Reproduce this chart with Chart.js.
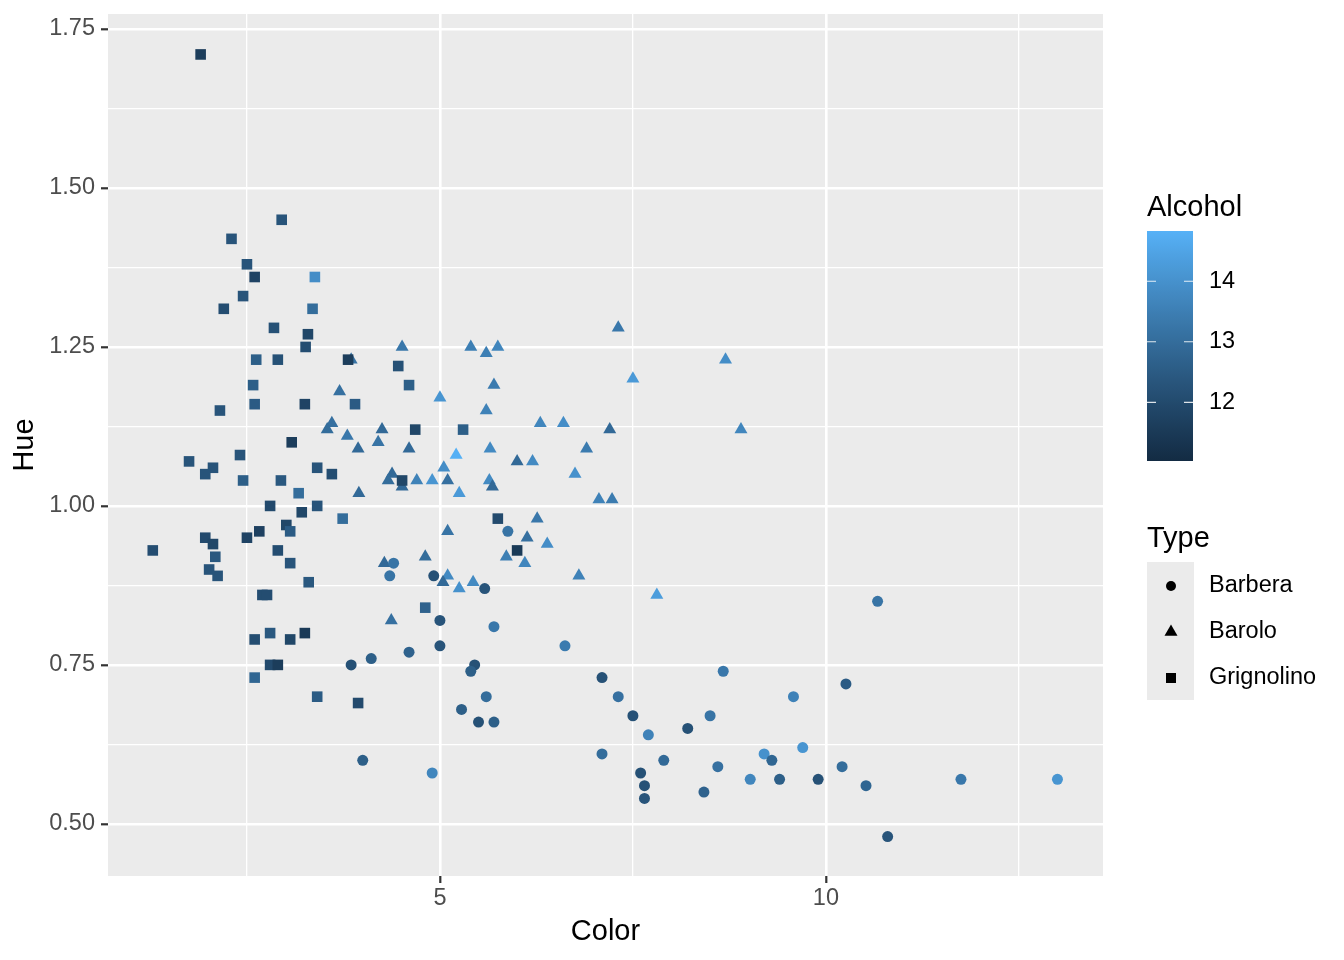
<!DOCTYPE html>
<html lang="en">
<head>
<meta charset="UTF-8">
<title>Wine: Color vs Hue</title>
<script src="https://cdn.jsdelivr.net/npm/chart.js"></script>
<style>
  html, body { margin: 0; padding: 0; background: #fff; }
  canvas { display: block; }
</style>
</head>
<body>
<canvas id="wineChart" width="1344" height="960"></canvas>
<script>
// ---- data ----
const baroloColor = [4.51,3.85,5.40,5.60,5.75,3.70,5.70,5.00,5.60,6.30,3.60,3.54,4.25,3.80,4.20,3.94,4.60,5.21,5.65,6.00,6.20,5.05,4.38,4.33,4.51,4.70,4.90,5.10,5.64,5.68,5.25,3.95,5.10,6.26,6.13,6.39,5.86,6.10,4.28,4.81,5.10,5.04,5.25,5.43,6.80,4.37,7.31,8.70,7.50,6.60,7.20,8.90,6.90,6.75,7.06,7.23,7.81];
const baroloHue = [1.25,1.23,1.25,1.24,1.25,1.18,1.19,1.17,1.15,1.13,1.13,1.12,1.12,1.11,1.10,1.09,1.09,1.08,1.09,1.07,1.07,1.06,1.05,1.04,1.03,1.04,1.04,1.04,1.04,1.03,1.02,1.02,0.96,0.98,0.95,0.94,0.92,0.91,0.91,0.92,0.89,0.88,0.87,0.88,0.89,0.82,1.28,1.23,1.20,1.13,1.12,1.12,1.09,1.05,1.01,1.01,0.86];
const baroloAlcohol = [13.3,13.2,13.5,13.5,13.7,13.1,13.4,14.1,13.6,13.7,13.1,13.0,12.9,13.3,13.2,12.9,12.9,14.8,13.8,12.9,13.8,13.9,12.9,13.0,12.9,13.6,14.1,13.1,13.8,12.9,14.2,12.9,13.2,13.3,13.1,13.9,13.5,13.7,12.9,13.0,13.8,12.9,14.0,13.8,13.6,13.1,13.3,13.9,14.2,13.9,12.9,13.7,13.4,14.0,13.6,13.4,14.3];

const grignolinoColor = [1.90,2.95,2.30,2.50,2.60,3.38,2.45,2.20,3.35,2.85,3.29,3.26,2.62,2.90,3.81,4.46,4.60,2.58,3.90,3.25,2.60,2.15,3.08,2.41,1.75,2.06,1.96,3.41,3.60,2.45,2.94,3.17,2.80,3.41,3.21,3.01,3.06,2.66,2.50,1.96,2.06,1.28,2.90,2.09,3.06,2.01,2.12,3.30,2.70,2.76,2.80,2.60,3.06,3.25,2.80,2.90,2.60,3.41,4.68,5.30,4.51,3.74,5.75,6.00,4.81,3.94];
const grignolinoHue = [1.71,1.45,1.42,1.38,1.36,1.36,1.33,1.31,1.31,1.28,1.27,1.25,1.23,1.23,1.23,1.22,1.19,1.19,1.16,1.16,1.16,1.15,1.10,1.08,1.07,1.06,1.05,1.06,1.05,1.04,1.04,1.02,1.00,1.00,0.99,0.97,0.96,0.96,0.95,0.95,0.94,0.93,0.93,0.92,0.91,0.90,0.89,0.88,0.86,0.86,0.80,0.79,0.79,0.80,0.75,0.75,0.73,0.70,1.12,1.12,1.04,0.98,0.98,0.93,0.84,0.69];
const grignolinoAlcohol = [11.6,12.3,12.3,12.3,11.8,13.9,12.3,12.1,13.0,12.2,11.9,12.1,12.6,12.2,11.6,12.2,12.6,12.6,12.5,11.8,12.5,12.3,11.6,12.3,12.3,12.3,12.3,12.3,12.1,12.6,12.4,13.0,12.0,12.3,11.9,11.9,12.5,11.7,11.8,12.0,11.9,12.1,12.1,12.4,12.3,12.3,12.3,12.4,12.1,12.1,12.4,12.1,11.9,11.5,12.0,11.6,12.8,12.5,11.9,12.6,11.9,13.0,12.0,11.5,12.7,12.0];

const barberaColor = [5.88,4.40,4.35,4.92,5.58,5.00,5.70,5.00,4.60,4.11,3.85,5.45,5.40,5.60,5.28,5.50,5.70,4.00,4.90,6.62,7.10,7.31,8.67,9.58,7.50,8.50,10.26,7.70,8.21,7.10,7.90,7.60,7.65,7.65,8.60,8.42,9.02,9.20,9.30,9.70,9.40,9.90,10.21,10.52,10.80,10.67,11.75,13.00];
const barberaHue = [0.96,0.91,0.89,0.89,0.87,0.82,0.81,0.78,0.77,0.76,0.75,0.75,0.74,0.70,0.68,0.66,0.66,0.60,0.58,0.78,0.73,0.70,0.74,0.70,0.67,0.67,0.72,0.64,0.65,0.61,0.60,0.58,0.56,0.54,0.59,0.55,0.57,0.61,0.60,0.62,0.57,0.57,0.59,0.56,0.48,0.85,0.57,0.57];
const barberaAlcohol = [13.2,13.2,13.2,12.2,12.3,12.3,13.3,12.3,12.7,12.6,12.2,12.2,12.6,13.0,12.6,12.2,12.6,12.6,13.7,13.4,12.2,13.1,13.3,13.6,12.2,13.2,12.5,13.6,12.2,13.0,12.9,12.2,12.2,12.3,13.1,12.7,13.7,14.0,12.8,14.1,12.6,12.2,13.0,12.8,12.3,13.2,13.3,14.1];

const xBreaks = [5, 10];
const xMinor = [2.5, 7.5, 12.5];
const yBreaks = [0.50, 0.75, 1.00, 1.25, 1.50, 1.75];
const yMinor = [0.625, 0.875, 1.125, 1.375, 1.625];
const alcoholBreaks = [12, 13, 14];
const alcoholRange = [11.03, 14.83];
const typeNames = ['Barbera', 'Barolo', 'Grignolino'];

const FONT = '"Liberation Sans", Arial, Helvetica, sans-serif';
Chart.defaults.font.family = FONT;

// ggplot-like gradient: #132B43 -> #56B1F7, interpolated in Lab
const lowRgb = [19, 43, 67];
const highRgb = [86, 177, 247];
function toLab([r, g, b]) {
  const lin = v => { v /= 255; return v <= 0.04045 ? v / 12.92 : Math.pow((v + 0.055) / 1.055, 2.4); };
  const R = lin(r), G = lin(g), B = lin(b);
  const X = (0.4124 * R + 0.3576 * G + 0.1805 * B) / 0.95047;
  const Y = 0.2126 * R + 0.7152 * G + 0.0722 * B;
  const Z = (0.0193 * R + 0.1192 * G + 0.9505 * B) / 1.08883;
  const f = t => t > 0.008856 ? Math.cbrt(t) : 7.787 * t + 16 / 116;
  return [116 * f(Y) - 16, 500 * (f(X) - f(Y)), 200 * (f(Y) - f(Z))];
}
function fromLab([L, a, b]) {
  const fy = (L + 16) / 116, fx = fy + a / 500, fz = fy - b / 200;
  const inv = t => t > 0.206893 ? t * t * t : (t - 16 / 116) / 7.787;
  const X = inv(fx) * 0.95047, Y = inv(fy), Z = inv(fz) * 1.08883;
  const R = 3.2406 * X - 1.5372 * Y - 0.4986 * Z;
  const G = -0.9689 * X + 1.8758 * Y + 0.0415 * Z;
  const B = 0.0557 * X - 0.2040 * Y + 1.0570 * Z;
  const gam = v => { v = v <= 0.0031308 ? 12.92 * v : 1.055 * Math.pow(v, 1 / 2.4) - 0.055; return Math.round(Math.min(1, Math.max(0, v)) * 255); };
  return [gam(R), gam(G), gam(B)];
}
const lowLab = toLab(lowRgb), highLab = toLab(highRgb);
function alcoholColour(a) {
  const t = Math.min(1, Math.max(0, (a - alcoholRange[0]) / (alcoholRange[1] - alcoholRange[0])));
  const c = fromLab(lowLab.map((v, i) => v + (highLab[i] - v) * t));
  return `rgb(${c[0]},${c[1]},${c[2]})`;
}

function typeDataset(label, colours, hues, alcohols, style, radius) {
  return {
    label: label,
    data: colours.map((c, i) => ({ x: c, y: hues[i] })),
    pointStyle: style,
    pointRadius: radius,
    pointBackgroundColor: alcohols.map(alcoholColour),
    pointBorderWidth: 0,
    borderWidth: 0
  };
}

const isIn = (arr, v) => arr.some(t => Math.abs(t - v) < 1e-9);

// grey panel behind the grid
const panelPlugin = {
  id: 'panel',
  beforeDraw(chart) {
    const { ctx, chartArea: a } = chart;
    ctx.save();
    ctx.fillStyle = '#fff';
    ctx.fillRect(0, 0, chart.width, chart.height);
    ctx.fillStyle = '#EBEBEB';
    ctx.fillRect(a.left, a.top, a.right - a.left, a.bottom - a.top);
    ctx.restore();
  }
};

// colourbar + shape legend on the right
const legendPlugin = {
  id: 'ggLegend',
  afterDraw(chart) {
    const ctx = chart.ctx;
    ctx.save();
    ctx.fillStyle = '#000';
    ctx.textAlign = 'left';
    ctx.textBaseline = 'alphabetic';
    ctx.font = '29px ' + FONT;
    ctx.fillText('Alcohol', 1147, 216);

    const barX = 1147, barW = 46, barTop = 231, barBottom = 461;
    const span = alcoholRange[1] - alcoholRange[0];
    const grad = ctx.createLinearGradient(0, barBottom, 0, barTop);
    for (let i = 0; i <= 30; i++) {
      grad.addColorStop(i / 30, alcoholColour(alcoholRange[0] + span * i / 30));
    }
    ctx.fillStyle = grad;
    ctx.fillRect(barX, barTop, barW, barBottom - barTop);

    ctx.font = '23.5px ' + FONT;
    ctx.textBaseline = 'middle';
    alcoholBreaks.forEach(v => {
      const y = barBottom - (v - alcoholRange[0]) / span * (barBottom - barTop);
      ctx.strokeStyle = 'rgba(255,255,255,0.85)';
      ctx.lineWidth = 1.2;
      ctx.beginPath();
      ctx.moveTo(barX, y); ctx.lineTo(barX + 9, y);
      ctx.moveTo(barX + barW - 9, y); ctx.lineTo(barX + barW, y);
      ctx.stroke();
      ctx.fillStyle = '#000';
      ctx.fillText(String(v), 1209, y);
    });

    ctx.textBaseline = 'alphabetic';
    ctx.font = '29px ' + FONT;
    ctx.fillText('Type', 1147, 547);

    ctx.fillStyle = '#EBEBEB';
    ctx.fillRect(1147, 562, 47, 138);
    const keyX = 1171;
    const keyY = [586, 632, 678];
    ctx.fillStyle = '#000';
    // circle
    ctx.beginPath(); ctx.arc(keyX, keyY[0], 5, 0, Math.PI * 2); ctx.fill();
    // triangle
    const r = 7.5;
    ctx.beginPath();
    ctx.moveTo(keyX, keyY[1] - r);
    ctx.lineTo(keyX + r * Math.sin(Math.PI * 2 / 3), keyY[1] + r / 2);
    ctx.lineTo(keyX - r * Math.sin(Math.PI * 2 / 3), keyY[1] + r / 2);
    ctx.closePath(); ctx.fill();
    // square
    ctx.fillRect(keyX - 5, keyY[2] - 5, 10, 10);

    ctx.font = '23.5px ' + FONT;
    ctx.textBaseline = 'middle';
    typeNames.forEach((name, i) => ctx.fillText(name, 1209, keyY[i]));
    ctx.restore();
  }
};

new Chart(document.getElementById('wineChart'), {
  type: 'scatter',
  data: {
    // first dataset is drawn on top in Chart.js
    datasets: [
      typeDataset('Barbera', barberaColor, barberaHue, barberaAlcohol, 'circle', 5.5),
      typeDataset('Grignolino', grignolinoColor, grignolinoHue, grignolinoAlcohol, 'rect', 7.5),
      typeDataset('Barolo', baroloColor, baroloHue, baroloAlcohol, 'triangle', 7.5)
    ]
  },
  options: {
    responsive: false,
    animation: false,
    events: [],
    layout: { padding: { top: 14, right: 241, bottom: 0, left: 0 } },
    plugins: { legend: { display: false }, tooltip: { enabled: false } },
    scales: {
      x: {
        type: 'linear',
        min: 0.70,
        max: 13.59,
        afterBuildTicks: s => {
          s.ticks = xMinor.concat(xBreaks).sort((a, b) => a - b).map(v => ({ value: v }));
        },
        afterFit: s => { s.height = 84; s.paddingLeft = 0; s.paddingRight = 0; },
        ticks: {
          autoSkip: false,
          maxRotation: 0,
          padding: 1,
          color: '#4D4D4D',
          font: { size: 23.5 },
          callback: v => isIn(xBreaks, v) ? String(v) : ''
        },
        grid: {
          color: '#FFFFFF',
          lineWidth: c => isIn(xBreaks, c.tick.value) ? 2.6 : 1.3,
          tickLength: 7,
          tickWidth: 2.2,
          tickColor: c => isIn(xBreaks, c.tick.value) ? '#333333' : 'rgba(0,0,0,0)'
        },
        border: { display: false },
        title: { display: true, text: 'Color', color: '#000', font: { size: 29 }, padding: { top: 0, bottom: 11 } }
      },
      y: {
        type: 'linear',
        min: 0.418,
        max: 1.7736,
        afterBuildTicks: s => {
          s.ticks = yMinor.concat(yBreaks).sort((a, b) => a - b).map(v => ({ value: v }));
        },
        afterFit: s => { s.width = 108; s.paddingTop = 0; s.paddingBottom = 0; },
        ticks: {
          autoSkip: false,
          padding: 6,
          color: '#4D4D4D',
          font: { size: 23.5 },
          callback: v => isIn(yBreaks, v) ? v.toFixed(2) : ''
        },
        grid: {
          color: '#FFFFFF',
          lineWidth: c => isIn(yBreaks, c.tick.value) ? 2.6 : 1.3,
          tickLength: 7,
          tickWidth: 2.2,
          tickColor: c => isIn(yBreaks, c.tick.value) ? '#333333' : 'rgba(0,0,0,0)'
        },
        border: { display: false },
        title: { display: true, text: 'Hue', color: '#000', font: { size: 29 }, padding: { top: 8, bottom: 0 } }
      }
    }
  },
  plugins: [panelPlugin, legendPlugin]
});
</script>
</body>
</html>
